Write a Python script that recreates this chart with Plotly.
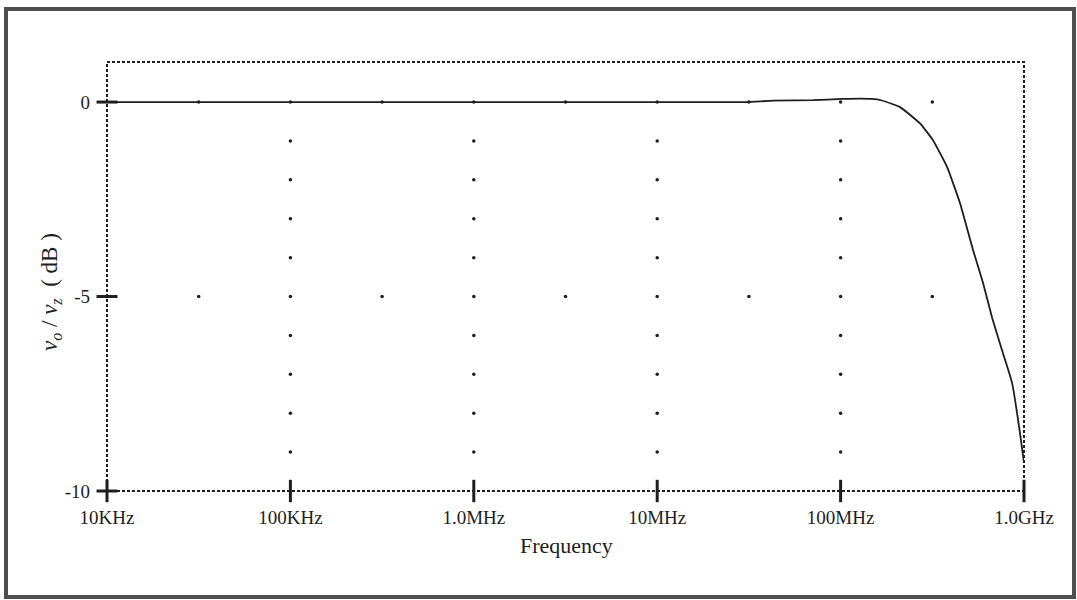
import numpy as np
import plotly.graph_objects as go

# ---- data ----
freq_hz = [1e4, 1e5, 1e6, 1e7, 3.0e7, 4.28e7, 7.08e7, 1.02e8, 1.48e8, 1.68e8,
           2.11e8, 2.71e8, 3.19e8, 3.80e8, 4.48e8, 5.27e8, 5.98e8,
           6.69e8, 7.59e8, 8.61e8, 9.51e8, 1.0e9]
gain_db = [0.0, 0.0, 0.0, 0.0, 0.0, 0.035, 0.05, 0.08, 0.08, 0.04,
           -0.13, -0.55, -0.98, -1.66, -2.60, -3.80, -4.65,
           -5.53, -6.38, -7.22, -8.51, -9.28]

x_tick_vals = [1e4, 1e5, 1e6, 1e7, 1e8, 1e9]
x_tick_text = ["10KHz", "100KHz", "1.0MHz", "10MHz", "100MHz", "1.0GHz"]
y_tick_vals = [0, -5, -10]
y_tick_text = ["0", "-5", "-10"]

# grid dot positions
decade_grid_x = [1e5, 1e6, 1e7, 1e8]
decade_grid_y = [0, -1, -2, -3, -4, -5, -6, -7, -8, -9]
half_grid_x = [3.162e4, 3.162e5, 3.162e6, 3.162e7, 3.162e8]
half_grid_y = [0, -5]

# ---- layout geometry (pixels) ----
W, H = 1077, 600
L, R, T, B = 107, 53, 62, 109
pw, ph = W - L - R, H - T - B


def px_x(p):
    return (p - L) / pw


def px_y(p):
    return (H - B - p) / ph


font_family = "Liberation Serif, Times New Roman, serif"
ink = "#1e1e1e"

fig = go.Figure()

# grid dots
gx = [x for x in decade_grid_x for _ in decade_grid_y]
gy = [y for _ in decade_grid_x for y in decade_grid_y]
gx += [x for x in half_grid_x for _ in half_grid_y]
gy += [y for _ in half_grid_x for y in half_grid_y]
fig.add_trace(go.Scatter(x=gx, y=gy, mode="markers",
                         marker=dict(size=3.5, color=ink),
                         hoverinfo="skip", showlegend=False))

# response curve
fig.add_trace(go.Scatter(x=freq_hz, y=gain_db, mode="lines",
                         line=dict(color=ink, width=1.8, shape="spline", smoothing=0.4),
                         showlegend=False, cliponaxis=False))

# axis tick marks (crossing the axes)
fig.add_trace(go.Scatter(x=x_tick_vals, y=[-10] * len(x_tick_vals), mode="markers",
                         marker=dict(symbol="line-ns", size=16,
                                     line=dict(width=3, color=ink)),
                         hoverinfo="skip", showlegend=False, cliponaxis=False))
fig.add_trace(go.Scatter(x=[1e4] * len(y_tick_vals), y=y_tick_vals, mode="markers",
                         marker=dict(symbol="line-ew", size=15,
                                     line=dict(width=3, color=ink)),
                         hoverinfo="skip", showlegend=False, cliponaxis=False))

shapes = [
    # dotted plot border
    dict(type="rect", xref="paper", yref="paper", x0=0, x1=1, y0=0, y1=1,
         line=dict(color=ink, width=2, dash="3px,2px"), layer="below"),
    # outer frame
    dict(type="rect", xref="paper", yref="paper",
         x0=px_x(6), x1=px_x(1074), y0=px_y(9), y1=px_y(597),
         line=dict(color="#4e4e4e", width=4)),
]

annotations = [
    dict(text="<i>v<sub>o</sub></i> / <i>v<sub>z</sub></i>  ( dB )",
         xref="paper", yref="paper", x=px_x(51), y=px_y(292),
         xanchor="center", yanchor="middle", textangle=-90, showarrow=False,
         font=dict(family=font_family, size=23, color=ink)),
    dict(text="Frequency", xref="paper", yref="paper",
         x=px_x(566), y=px_y(545), xanchor="center", yanchor="middle",
         showarrow=False, font=dict(family=font_family, size=22, color=ink)),
]

fig.update_layout(
    width=W, height=H,
    margin=dict(l=L, r=R, t=T, b=B),
    paper_bgcolor="white", plot_bgcolor="white",
    showlegend=False,
    shapes=shapes, annotations=annotations,
    xaxis=dict(type="log", range=[4, 9], tickvals=x_tick_vals, ticktext=x_tick_text,
               showgrid=False, zeroline=False, showline=False, ticks="",
               ticklabelstandoff=13,
               tickfont=dict(family=font_family, size=19, color=ink)),
    yaxis=dict(range=[-10, 1.03], tickvals=y_tick_vals, ticktext=y_tick_text,
               showgrid=False, zeroline=False, showline=False, ticks="",
               ticklabelstandoff=16,
               tickfont=dict(family=font_family, size=19, color=ink)),
)

fig.write_html("out.html")
